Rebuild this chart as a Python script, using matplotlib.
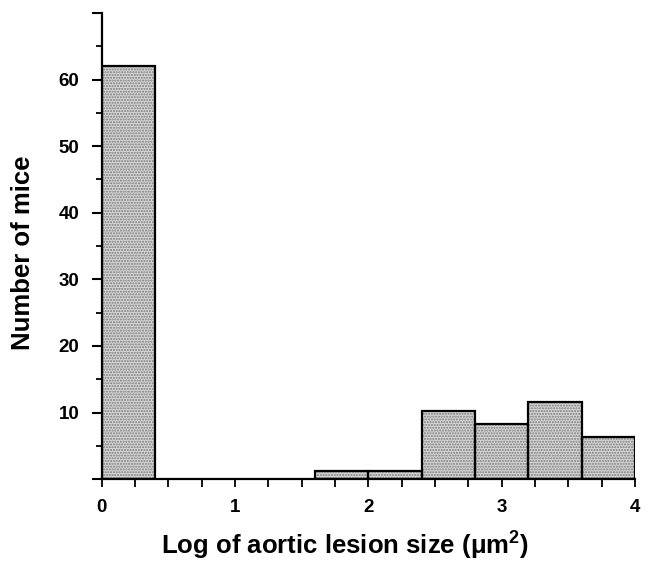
import matplotlib
matplotlib.use("Agg")
import matplotlib.pyplot as plt
from matplotlib.ticker import MultipleLocator, FixedLocator

# histogram bins (log of lesion size) and counts
bin_edges = [0.0, 0.4, 0.8, 1.2, 1.6, 2.0, 2.4, 2.8, 3.2, 3.6, 4.0]
counts = [62, 0, 0, 0, 1.2, 1.2, 10.3, 8.3, 11.6, 6.4]
xtick_vals = [0, 1, 2, 3, 4]
ytick_vals = [10, 20, 30, 40, 50, 60]

plt.rcParams['font.family'] = ['Liberation Sans', 'DejaVu Sans']
plt.rcParams['font.weight'] = 'bold'

fig = plt.figure(figsize=(6.52, 5.65), dpi=100)
ax = fig.add_axes([0.156, 0.152, 0.818, 0.825])

lefts = bin_edges[:-1]
widths = [b - a for a, b in zip(bin_edges[:-1], bin_edges[1:])]
nz = [i for i, c in enumerate(counts) if c > 0]

# stippled grey fill, then black outline on top
ax.bar([lefts[i] for i in nz], [counts[i] for i in nz], width=[widths[i] for i in nz],
       align='edge', facecolor='#d6d6d6', edgecolor='#7a7a7a', hatch='......', linewidth=0)
ax.bar([lefts[i] for i in nz], [counts[i] for i in nz], width=[widths[i] for i in nz],
       align='edge', fill=False, edgecolor='black', linewidth=1.6)

ax.set_xlim(0, 4)
ax.set_ylim(0, 70)

for s in ['top', 'right']:
    ax.spines[s].set_visible(False)
for s in ['left', 'bottom']:
    ax.spines[s].set_linewidth(1.6)

ax.xaxis.set_major_locator(FixedLocator(xtick_vals))
ax.xaxis.set_minor_locator(MultipleLocator(0.25))
ax.set_xticklabels([str(v) for v in xtick_vals])
ax.yaxis.set_major_locator(MultipleLocator(10))
ax.yaxis.set_minor_locator(MultipleLocator(5))
ax.set_yticklabels(['' if v not in ytick_vals else str(int(v)) for v in ax.get_yticks()])

ax.tick_params(axis='y', which='major', direction='out', length=7, width=1.5, pad=9, labelsize=13.5)
ax.tick_params(axis='y', which='minor', direction='out', length=4.5, width=1.3)
ax.tick_params(axis='x', which='both', direction='out', length=6, width=1.3, pad=8, labelsize=13.5)

ax.set_xlabel(r'Log of aortic lesion size ($\mathregular{\mu m^2}$)', fontsize=18.5, fontweight='bold')
ax.set_ylabel('Number of mice', fontsize=18.5, fontweight='bold')
ax.xaxis.set_label_coords(0.456, -0.108)
ax.yaxis.set_label_coords(-0.125, 0.486)

fig.savefig('out.png', dpi=100)
